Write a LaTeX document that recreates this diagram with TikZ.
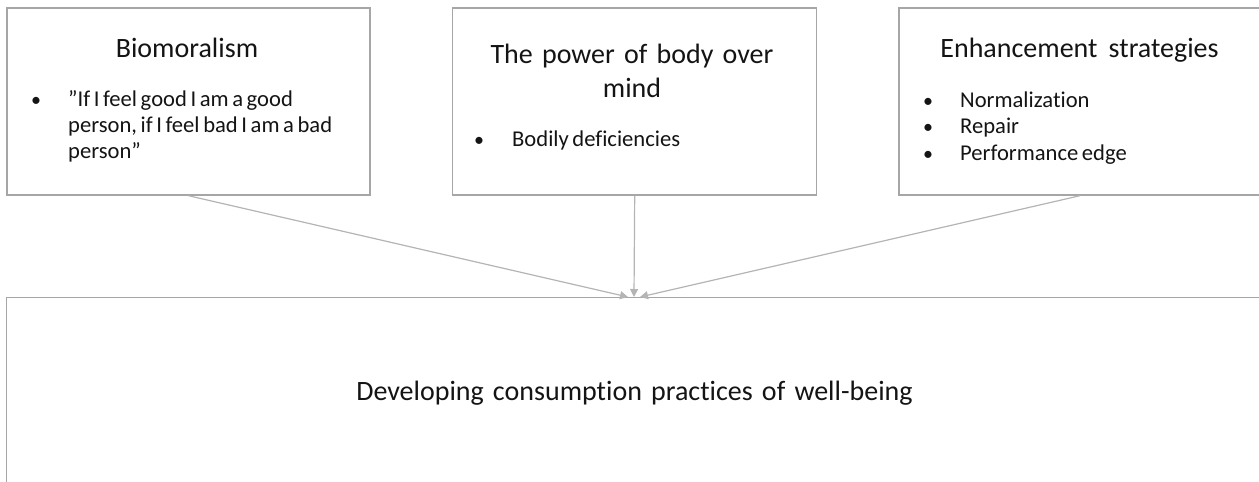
\documentclass[tikz,border=0pt]{standalone}
\usepackage{fontspec}
\setmainfont{Carlito}[Ligatures=NoCommon]
\usetikzlibrary{arrows.meta}
\definecolor{boxgrey}{HTML}{A6A6A6}
\definecolor{arrgrey}{HTML}{B4B4B4}
\definecolor{txt}{HTML}{141414}
\newcommand\mytitlefont{\fontsize{28}{33}\selectfont\spaceskip=9.2pt plus 2pt minus 1pt\relax}
\newcommand\myitemfont{\fontsize{22.6}{26}\selectfont\spaceskip=3.6pt plus 1pt minus 1pt\relax}
\tikzset{
  panel/.style={draw=boxgrey, line width=1.4pt, fill=white, inner sep=0pt, rectangle},
  titletext/.style={font=\mytitlefont, text=txt, inner sep=0pt, anchor=base},
  itemtext/.style={font=\myitemfont, text=txt, inner sep=0pt, anchor=base west},
  bul/.style={font=\fontsize{20}{24}\selectfont, text=txt, inner sep=0pt, anchor=base},
  link/.style={draw=arrgrey, line width=1.2pt, -{Triangle[length=8pt,width=8pt]}},
}
\begin{document}
\begin{tikzpicture}[x=1pt,y=-1pt]
\path[use as bounding box] (0,0) rectangle (1259,482);
\clip (0,0) rectangle (1259,482);
% boxes
\node[panel, minimum width=363pt, minimum height=187pt] (b1) at (188.5,101.5) {};
\node[panel, minimum width=364pt, minimum height=187pt] (b2) at (634.7,101.5) {};
\node[panel, minimum width=362pt, minimum height=187pt] (b3) at (1080,101.5) {};
\node[panel, minimum width=1254.6pt, minimum height=220pt] (b4) at (634,407.7) {};
% texts box 1
\node[titletext] (t1) at (187,57) {Biomoralism};
\node[bul] (u1) at (36,106) {•};
\node[itemtext] (l11) at (68,106) {”If I feel good I am a good};
\node[itemtext] (l12) at (68,132) {person, if I feel bad I am a bad};
\node[itemtext] (l13) at (68,158) {person”};
% texts box 2
\node[titletext] (t2a) at (632,63) {The power of body over};
\node[titletext] (t2b) at (632,97) {mind};
\node[bul] (u2) at (479,146) {•};
\node[itemtext] (l21) at (512,146) {Bodily deficiencies};
% texts box 3
\node[titletext] (t3) at (1079.5,57) {Enhancement\hspace{2pt} strategies};
\node[bul] (u31) at (928,107) {•};
\node[bul] (u32) at (928,133) {•};
\node[bul] (u33) at (928,160) {•};
\node[itemtext] (l31) at (960,107) {Normalization};
\node[itemtext] (l32) at (960,133) {Repair};
\node[itemtext] (l33) at (960,160) {Performance edge};
% bottom
\node[titletext] (t4) at (634.5,400) {Developing consumption practices of well-being};
% targets
\coordinate (e1) at ([xshift=-6pt]b4.north);
\coordinate (e2) at (b4.north);
\coordinate (e3) at ([xshift=6pt]b4.north);
\draw[link] (b1.south) -- (e1);
\draw[link] (b2.south) -- (e2);
\draw[link] (b3.south) -- (e3);
\end{tikzpicture}
\end{document}
